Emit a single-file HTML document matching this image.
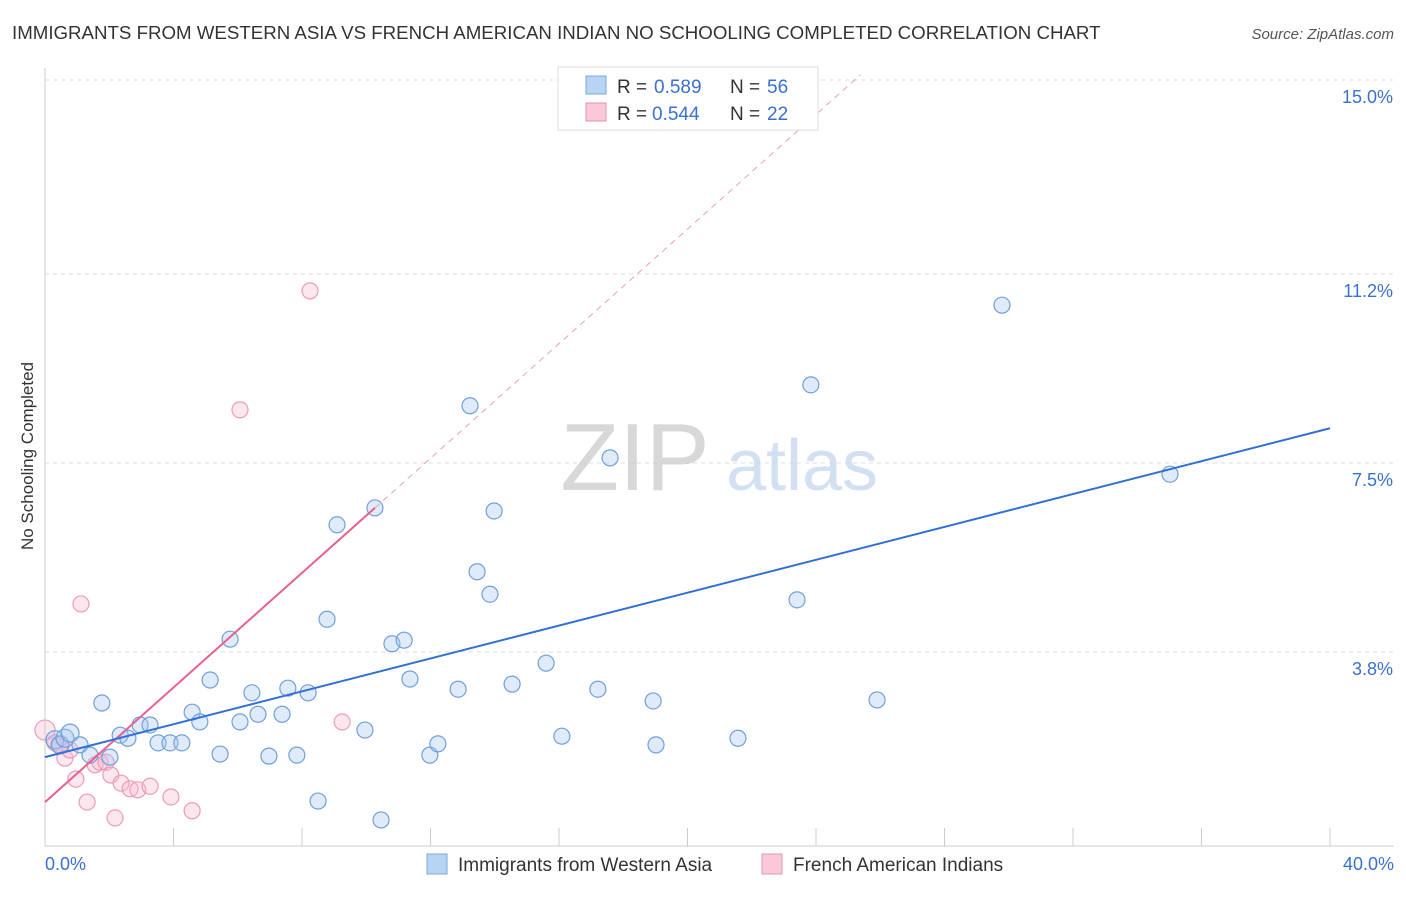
<!DOCTYPE html>
<html><head><meta charset="utf-8"><style>
body{margin:0;background:#fff;font-family:"Liberation Sans",sans-serif;}
svg text{font-family:"Liberation Sans",sans-serif;}
</style></head><body>
<svg id="chart" width="1406" height="892" viewBox="0 0 1406 892" xmlns="http://www.w3.org/2000/svg">
<text x="12" y="39" font-size="18.7" fill="#333">IMMIGRANTS FROM WESTERN ASIA VS FRENCH AMERICAN INDIAN NO SCHOOLING COMPLETED CORRELATION CHART</text>
<text x="1394" y="39" font-size="15" fill="#555" text-anchor="end" font-style="italic">Source: ZipAtlas.com</text>
<text transform="translate(33,456) rotate(-90)" font-size="17" fill="#333" text-anchor="middle">No Schooling Completed</text>
<g id="grid"></g>
<g>
<text x="635" y="490" font-size="96" fill="#ccc" text-anchor="middle" font-family="Liberation Serif" opacity="0.75">ZIP</text>
<text x="802" y="490" font-size="72" fill="#c5d6ee" text-anchor="middle" opacity="0.75">atlas</text>
</g>
<g id="marks"></g>
<g>
<rect x="558" y="67" width="260" height="63" fill="#fff" stroke="#ddd"/>
<rect x="586" y="76" width="20" height="18" fill="#b8d4f5" stroke="#7aaae0"/>
<text x="617" y="93" font-size="19" fill="#333">R =</text>
<text x="654" y="93" font-size="19" fill="#3a70d0">0.589</text>
<text x="730" y="93" font-size="19" fill="#333">N =</text>
<text x="767" y="93" font-size="19" fill="#3a70d0">56</text>
<rect x="586" y="103" width="20" height="18" fill="#fac8d8" stroke="#e890b0"/>
<text x="617" y="120" font-size="19" fill="#333">R =</text>
<text x="652" y="120" font-size="19" fill="#3a70d0">0.544</text>
<text x="730" y="120" font-size="19" fill="#333">N =</text>
<text x="767" y="120" font-size="19" fill="#3a70d0">22</text>
</g>
<g>
<rect x="427" y="854" width="20" height="20" fill="#b8d4f5" stroke="#7aaae0"/>
<text x="458" y="871" font-size="19" fill="#333">Immigrants from Western Asia</text>
<rect x="762" y="854" width="20" height="20" fill="#fac8d8" stroke="#e890b0"/>
<text x="793" y="871" font-size="19" fill="#333">French American Indians</text>
</g>
</svg>
<script>
const yTicks=[3.8,7.5,11.2,15.0];
const yTickLabels=["3.8%","7.5%","11.2%","15.0%"];
const xTickLabels=["0.0%","40.0%"];
const blueX=[0.31,0.47,0.62,0.78,1.09,1.40,1.77,2.02,2.34,2.58,2.96,3.27,3.52,3.89,4.26,4.58,4.82,5.14,5.45,5.76,6.07,6.44,6.63,6.97,7.38,7.56,7.84,8.19,8.50,8.78,9.09,9.96,10.27,10.46,10.80,11.18,11.36,11.98,12.23,12.86,13.23,13.45,13.85,13.98,14.54,15.60,16.09,17.21,17.59,18.93,19.02,21.57,23.41,23.84,25.90,29.79,35.02];
const blueY=[2.08,1.98,2.11,2.21,1.98,1.78,2.80,1.74,2.17,2.11,2.37,2.37,2.02,2.02,2.02,2.62,2.43,3.25,1.80,4.05,2.43,3.00,2.58,1.76,2.58,3.09,1.78,3.00,0.88,4.44,6.29,2.27,6.62,0.51,3.96,4.03,3.27,1.78,2.00,3.07,8.62,5.37,4.93,6.56,3.17,3.58,2.15,3.07,7.60,2.84,1.98,2.11,4.82,9.03,2.86,10.59,7.28];
const pinkX=[0,0.31,0.47,0.62,0.78,0.96,1.12,1.31,1.56,1.71,1.90,2.05,2.18,2.37,2.65,2.89,3.27,3.92,4.58,6.07,8.25,9.25];
const pinkY=[2.27,2.02,1.98,1.72,1.88,1.31,4.74,0.86,1.59,1.64,1.64,1.39,0.55,1.23,1.12,1.10,1.17,0.96,0.69,8.54,10.87,2.43];
const blueTrend=[1.74,8.18];
const pinkTrend=[0.86,0.561];
const NS="http://www.w3.org/2000/svg";
const X=v=>45+v*32.125, Y=v=>846-v*51.07;
const grid=document.getElementById('grid'), marks=document.getElementById('marks');
function mk(tag,attrs,parent){const e=document.createElementNS(NS,tag);for(const k in attrs)e.setAttribute(k,attrs[k]);parent.appendChild(e);return e;}
yTicks.forEach((t,i)=>{
 const l=mk('line',{x1:45,x2:1394,y1:Y(t),y2:Y(t),stroke:'#ddd','stroke-dasharray':'4,4'},grid);
 
 
 const tx=mk('text',{x:1393,y:Y(t)+23,'font-size':18,fill:'#3a70d0','text-anchor':'end'},grid);
 tx.textContent=yTickLabels[i];
 
 
});
const ax=mk('line',{x1:45,x2:45,y1:68,y2:846,stroke:'#ccc'},grid);


const bx=mk('line',{x1:45,x2:1394,y1:846,y2:846,stroke:'#ccc'},grid);


for(let i=0;i<=10;i++){const t=mk('line',{x1:X(i*4),x2:X(i*4),y1:828,y2:846,stroke:'#ccc'},grid);
 
 }
[[0,'start',45],[40,'end',1394]].forEach((p,i)=>{const t=mk('text',{x:p[2],y:870,'font-size':18,fill:'#3a70d0','text-anchor':p[1]},grid);t.textContent=xTickLabels[i];
 
 });
pinkX.forEach((x,i)=>{const c=mk('circle',{cx:X(x),cy:Y(pinkY[i]),r:i==0?10:8,fill:'rgba(248,185,205,0.35)',stroke:'#ec9ab8','stroke-width':1.2},marks);
 
 });
blueX.forEach((x,i)=>{const c=mk('circle',{cx:X(x),cy:Y(blueY[i]),r:(i<4)?9:8,fill:'rgba(165,198,240,0.35)',stroke:'#6f9fdc','stroke-width':1.2},marks);
 
 });
const pEnd=10.27, pTop=(15.1-pinkTrend[0])/pinkTrend[1];
const pd=mk('line',{x1:X(pEnd),y1:Y(pinkTrend[0]+pinkTrend[1]*pEnd),x2:X(pTop),y2:Y(15.1),stroke:'#e8a0b8','stroke-dasharray':'6,5','stroke-width':1},marks);


const pl=mk('line',{x1:X(0),y1:Y(pinkTrend[0]),x2:X(pEnd),y2:Y(pinkTrend[0]+pinkTrend[1]*pEnd),stroke:'#e8608e','stroke-width':2},marks);


const bl=mk('line',{x1:X(0),y1:Y(blueTrend[0]),x2:X(40),y2:Y(blueTrend[1]),stroke:'#2f6fd6','stroke-width':2},marks);


</script>
</body></html>
